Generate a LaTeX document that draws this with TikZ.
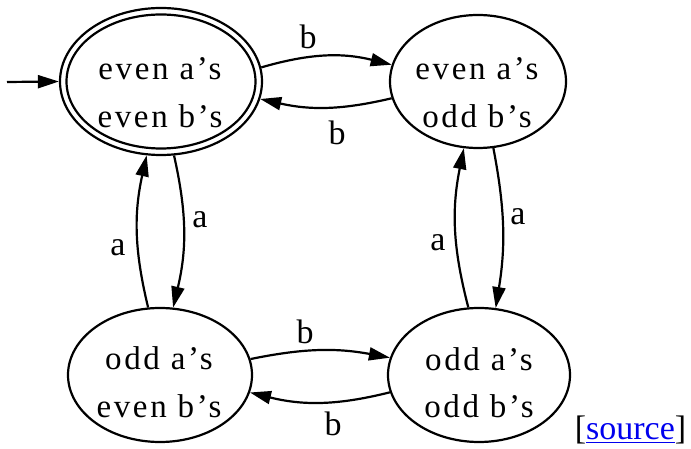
\documentclass[tikz,border=0pt]{standalone}
\usepackage{fontspec}
\setmainfont{Liberation Serif}
\newfontfamily\statefont[LetterSpace=8]{Liberation Serif}
\usetikzlibrary{shapes.geometric,arrows.meta}
\definecolor{linkblue}{RGB}{0,0,238}
\tikzset{
  stateshape/.style={ellipse, draw, line width=2.2pt, inner sep=0pt},
  statetext/.style={anchor=base, inner sep=0pt, font=\statefont\fontsize{33}{39}\selectfont},
  edgelbl/.style={inner sep=0pt, font=\fontsize{34}{40}\selectfont},
  trans/.style={line width=2.2pt, -{Triangle[length=21pt,width=13pt]}},
}
\begin{document}
\begin{tikzpicture}[x=1pt,y=1pt]
\useasboundingbox (0,0) rectangle (691,449);
% states
\node[stateshape, minimum width=202pt, minimum height=147pt] (tl) at (161,367.5) {};
\node[stateshape, minimum width=189pt, minimum height=134pt] (tlin) at (161,367.5) {};
\node[stateshape, minimum width=176pt, minimum height=133pt] (tr) at (478,367.5) {};
\node[stateshape, minimum width=184pt, minimum height=134pt] (bl) at (160,74) {};
\node[stateshape, minimum width=182pt, minimum height=134pt] (br) at (479,74) {};
% state texts
\node[statetext] (tla) at (160,369) {even a’s};
\node[statetext] (tlb) at (160,321) {even b’s};
\node[statetext] (tra) at (477,369) {even a’s};
\node[statetext] (trb) at (477,321) {odd b’s};
\node[statetext] (bla) at (159,79) {odd a’s};
\node[statetext] (blb) at (159,31) {even b’s};
\node[statetext] (bra) at (479,78) {odd a’s};
\node[statetext] (brb) at (479,31) {odd b’s};
% start arrow
\coordinate (start) at (7,367);
\draw[trans] (start) -- (tl.180);
% transitions
\draw[trans] (tl.8.5) to[bend left=15] (tr.169);
\draw[trans] (tr.191) to[bend left=13] (tl.-10);
\draw[trans] (tl.-80.7) to[bend left=13] (bl.79.8);
\draw[trans] (bl.100.2) to[bend left=13] (tl.259.2);
\draw[trans] (tr.-77.9) to[bend left=10] (br.76.4);
\draw[trans] (br.99.4) to[bend left=13] (tr.258.8);
\draw[trans] (bl.10.8) to[bend left=11] (br.169);
\draw[trans] (br.191) to[bend left=14] (bl.-11.3);
% labels
\node[edgelbl] (l1) at (308,412) {b};
\node[edgelbl] (l2) at (337,316) {b};
\node[edgelbl] (l3) at (118,201) {a};
\node[edgelbl] (l4) at (200,229) {a};
\node[edgelbl] (l5) at (438,206) {a};
\node[edgelbl] (l6) at (518,232) {a};
\node[edgelbl] (l7) at (305,117) {b};
\node[edgelbl] (l8) at (333,25) {b};
% source link
\node[anchor=base, inner sep=0pt, font=\fontsize{34}{40}\selectfont] (src) at (630.5,9) {[\textcolor{linkblue}{\underline{source}}]};
\end{tikzpicture}
\end{document}
